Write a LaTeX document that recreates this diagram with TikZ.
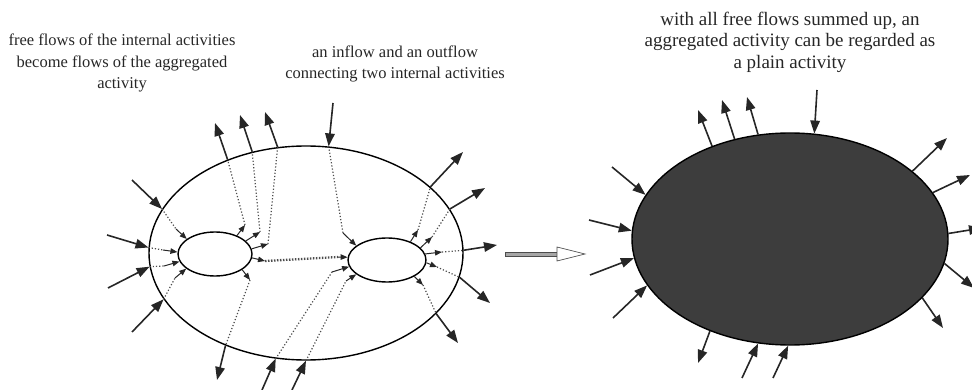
\documentclass[tikz,border=0pt]{standalone}
\usepackage{fontspec}
\setmainfont{Liberation Serif}
\usetikzlibrary{arrows.meta,shapes.geometric}

\tikzset{
	flow/.style={line width=1.6pt, color=black!85, -{Triangle[length=13pt,width=9.5pt]}},
	small flow/.style={line width=1pt, color=black!85, -{Triangle[length=7pt,width=5.5pt]}},
	free link/.style={line width=1.2pt, color=black!70, dash pattern=on 1.2pt off 2pt},
	inner link/.style={line width=2.3pt, color=black!70, dash pattern=on 1.5pt off 1.5pt},
	activity/.style={ellipse, draw, line width=1.4pt, inner sep=0pt},
	caption/.style={align=center, color=black!85, font=\fontsize{16.5}{21.5}\selectfont}
}

\begin{document}
\begin{tikzpicture}[x=1pt, y=-1pt]
		%%%%% START %%%%%
		\useasboundingbox (0, 0) rectangle (972, 390);
		
		\node[caption] (capleft) at (122, 63) {free flows of the internal activities\\become flows of the aggregated\\activity};
		\node[caption] (capmid) at (395, 64) {an inflow and an outflow\\connecting two internal activities};
		\node[caption, font=\fontsize{19}{21.5}\selectfont] (capright) at (790, 42) {with all free flows summed up, an\\aggregated activity can be regarded as\\a plain activity};
		
		\node[activity, minimum width=314pt, minimum height=214pt] (agg) at (306, 253) {};
		\node[activity, minimum width=74pt, minimum height=44pt] (inL) at (215, 254) {};
		\node[activity, minimum width=78pt, minimum height=44pt] (inR) at (387, 260) {};
		
		% free outflows of the internal activities
		\foreach \s/\a/\px/\py/\b/\qx/\qy in {inL/40/245/225/130/215/123, inL/23/260/232/118/240/115,
			inL/8/268/244/105/265/112, inL/330/250/280/229/217/380, inR/38/418/230/28/463/152,
			inR/20/432/237/17/485/188, inR/9/442/252/1/497/245, inR/356/437/267/351/490/303,
			inR/329/423/285/335/458/343}
		{
			\draw[small flow] (\s.\a) -- (\px, \py) coordinate (tip);
			\draw[free link] (tip) -- (agg.\b);
			\draw[flow] (agg.\b) -- (\qx, \qy);
		}
		
		% free inflows of the internal activities
		\foreach \qx/\qy/\b/\px/\py/\s/\a in {132/180/163/176/229/inL/152, 107/235/178/163/250/inL/177,
			108/288/185/164/266/inL/192, 132/332/198/175/278/inL/207, 333/103/78/343/233/inR/155,
			262/390/254/332/272/inR/190, 292/390/270/346/281/inR/205}
		{
			\draw[flow] (\qx, \qy) -- (agg.\b);
			\draw[free link] (agg.\b) -- (\px, \py) coordinate (tail);
			\draw[small flow] (tail) -- (\s.\a);
		}
		
		% inner flow between the two activities
		\draw[small flow] (inL.354) -- (265, 261) coordinate (outL);
		\coordinate (inRtail) at (338, 257);
		\draw[inner link] (outL) -- (inRtail);
		\draw[small flow] (inRtail) -- (inR.176);
		
		% arrow between the two pictures
		\draw[line width=0.7pt, color=black!70, fill=black!35] (505, 252) rectangle (557, 256);
		\draw[line width=0.7pt, color=black!70, fill=white] (557, 247) -- (585, 254) -- (557, 261) -- cycle;
		
		\node[activity, fill=black!76, minimum width=316pt, minimum height=212pt] (plain) at (790, 239) {};
		
		\foreach \b/\qx/\qy in {130/698/110, 119/722/100, 107/747/97, 229/698/363, 29/947/138,
			18/970/175, 2/982/228, 351/974/288, 336/943/328}
			\draw[flow] (plain.\b) -- (\qx, \qy);
		
		\foreach \qx/\qy/\b in {817/90/77, 612/167/163, 589/220/177, 590/275/187, 613/318/198,
			742/378/253, 773/378/269}
			\draw[flow] (\qx, \qy) -- (plain.\b);
		
		%%%%% END %%%%%
	\end{tikzpicture}
\end{document}
